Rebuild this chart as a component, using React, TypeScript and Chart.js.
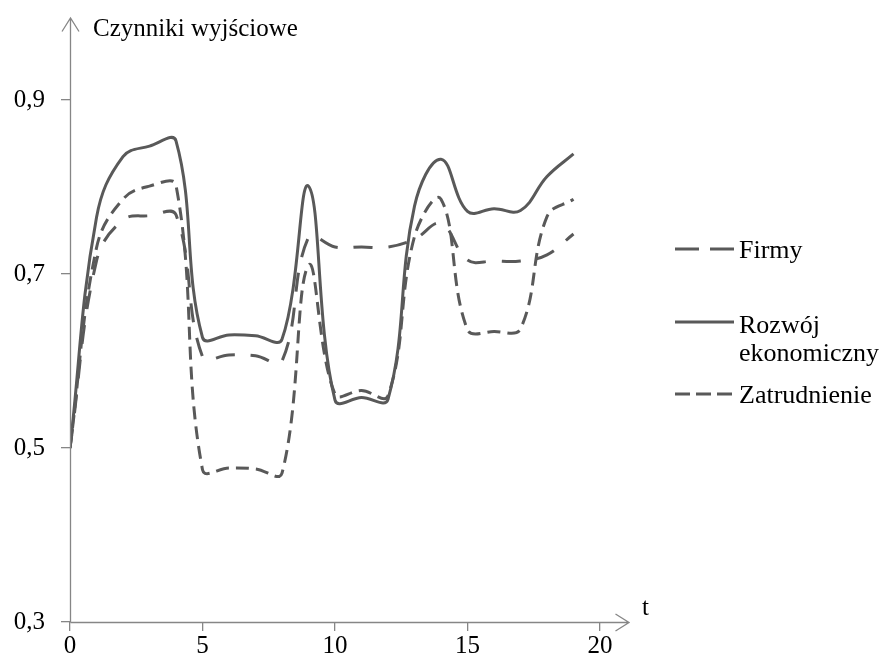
import { useEffect, useRef } from 'react';
import { Chart, registerables } from 'chart.js';

Chart.register(...registerables);

// ---- data ----
const T = [0, 1, 2, 3, 4, 5, 6, 7, 8, 9, 10, 11, 12, 13, 14, 15, 16, 17, 18, 19];
const FIRMY = [0.5, 0.715, 0.762, 0.767, 0.768, 0.605, 0.607, 0.606, 0.6, 0.742, 0.731, 0.731, 0.731, 0.74, 0.758, 0.716, 0.715, 0.715, 0.722, 0.746];
const ROZWOJ = [0.5, 0.765, 0.835, 0.847, 0.853, 0.627, 0.63, 0.629, 0.625, 0.801, 0.555, 0.558, 0.556, 0.778, 0.832, 0.772, 0.775, 0.773, 0.812, 0.838];
const ZATRUDNIENIE = [0.5, 0.73, 0.786, 0.801, 0.802, 0.475, 0.477, 0.476, 0.471, 0.71, 0.562, 0.566, 0.56, 0.743, 0.786, 0.636, 0.634, 0.637, 0.766, 0.786];

const SERIES_NAMES = ['Firmy', 'Rozwój ekonomiczny', 'Zatrudnienie'];
const LEGEND_LINES = [['Firmy'], ['Rozwój', 'ekonomiczny'], ['Zatrudnienie']];
const X_TICKS = [0, 5, 10, 15, 20];
const Y_TICKS = [0.3, 0.5, 0.7, 0.9];
const Y_TICK_LABELS = ['0,3', '0,5', '0,7', '0,9'];
const Y_TITLE = 'Czynniki wyjściowe';
const X_TITLE = 't';

const FONT = "'Liberation Serif', 'Times New Roman', serif";
const LINE_COLOR = '#595959';
const AXIS_COLOR = '#868686';

const decorPlugin = {
  id: 'decor',
  afterDraw(chart: any) {
    const { ctx, scales } = chart;
    const xs = scales.x;
    const ys = scales.y;
    const ax = Math.round(xs.getPixelForValue(0)) + 0.5;
    const ay = Math.round(ys.getPixelForValue(Y_TICKS[0])) + 0.5;
    const topY = 18;
    const rightX = 629;
    ctx.save();
    ctx.strokeStyle = AXIS_COLOR;
    ctx.lineWidth = 1.3;
    ctx.lineCap = 'butt';
    // y axis + arrow
    ctx.beginPath();
    ctx.moveTo(ax, ay);
    ctx.lineTo(ax, topY);
    ctx.moveTo(ax - 8.5, topY + 13.5);
    ctx.lineTo(ax, topY);
    ctx.lineTo(ax + 8.5, topY + 13.5);
    ctx.stroke();
    // x axis + arrow
    ctx.beginPath();
    ctx.moveTo(ax, ay);
    ctx.lineTo(rightX, ay);
    ctx.moveTo(rightX - 13.5, ay - 8.5);
    ctx.lineTo(rightX, ay);
    ctx.lineTo(rightX - 13.5, ay + 8.5);
    ctx.stroke();

    // titles
    ctx.fillStyle = '#000';
    ctx.font = `25px ${FONT}`;
    ctx.textAlign = 'left';
    ctx.textBaseline = 'alphabetic';
    ctx.fillText(Y_TITLE, 93, 36);
    ctx.fillText(X_TITLE, 642, 615);

    // legend
    const items = [
      { y: 249, textY: [258] },
      { y: 322, textY: [333, 361] },
      { y: 394, textY: [403] },
    ];
    const legendDash = [[24, 11], [], [15, 6]];
    items.forEach((it, i) => {
      const ds = chart.data.datasets[i];
      ctx.save();
      ctx.strokeStyle = ds.borderColor;
      ctx.lineWidth = ds.borderWidth;
      ctx.setLineDash(legendDash[i]);
      ctx.beginPath();
      ctx.moveTo(675, it.y);
      ctx.lineTo(734, it.y);
      ctx.stroke();
      ctx.restore();
      ctx.fillStyle = '#000';
      ctx.font = `26px ${FONT}`;
      LEGEND_LINES[i].forEach((line, j) => {
        ctx.fillText(line, 739, it.textY[j]);
      });
    });
    ctx.restore();
  },
};

export default function App() {
  const ref = useRef<HTMLCanvasElement | null>(null);

  useEffect(() => {
    if (!ref.current) return;
    const mk = (vals: number[]) => vals.map((v, i) => ({ x: T[i], y: v }));
    const chart = new Chart(ref.current, {
      type: 'line',
      data: {
        datasets: [
          {
            label: SERIES_NAMES[0],
            data: mk(FIRMY),
            borderColor: LINE_COLOR,
            borderWidth: 3,
            borderDash: [19, 16],
            pointRadius: 0,
            tension: 0.4,
            fill: false,
          },
          {
            label: SERIES_NAMES[1],
            data: mk(ROZWOJ),
            borderColor: LINE_COLOR,
            borderWidth: 3,
            pointRadius: 0,
            tension: 0.4,
            fill: false,
          },
          {
            label: SERIES_NAMES[2],
            data: mk(ZATRUDNIENIE),
            borderColor: LINE_COLOR,
            borderWidth: 3,
            borderDash: [13, 7],
            pointRadius: 0,
            tension: 0.4,
            fill: false,
          },
        ],
      },
      options: {
        responsive: false,
        animation: false,
        devicePixelRatio: 1,
        layout: { padding: { left: 0, right: 284, top: 100, bottom: 0 } },
        plugins: { legend: { display: false }, tooltip: { enabled: false } },
        scales: {
          x: {
            type: 'linear',
            min: 0,
            max: 20,
            afterBuildTicks: (s: any) => {
              s.ticks = X_TICKS.map((v) => ({ value: v }));
            },
            afterFit: (s: any) => {
              s.height = 41;
            },
            grid: { drawOnChartArea: false, drawTicks: true, tickLength: 9, color: AXIS_COLOR, lineWidth: 1.3 },
            border: { display: false },
            ticks: {
              color: '#000',
              font: { family: FONT, size: 25 },
              padding: 0,
              maxRotation: 0,
              autoSkip: false,
              callback: (v: any) => String(v),
            },
          },
          y: {
            type: 'linear',
            min: 0.3,
            max: 0.9,
            afterBuildTicks: (s: any) => {
              s.ticks = Y_TICKS.map((v) => ({ value: v }));
            },
            afterFit: (s: any) => {
              s.width = 70;
            },
            grid: { drawOnChartArea: false, drawTicks: true, tickLength: 9, color: AXIS_COLOR, lineWidth: 1.3 },
            border: { display: false },
            ticks: {
              color: '#000',
              font: { family: FONT, size: 25 },
              padding: 16,
              autoSkip: false,
              callback: (v: any) => {
                const idx = Y_TICKS.findIndex((t) => Math.abs(t - v) < 1e-6);
                return idx >= 0 ? Y_TICK_LABELS[idx] : '';
              },
            },
          },
        },
      },
      plugins: [decorPlugin],
    } as any);
    return () => chart.destroy();
  }, []);

  return (
    <div style={{ position: 'absolute', left: 0, top: 0, width: 884, height: 663, background: '#fff' }}>
      <canvas ref={ref} width={884} height={663} style={{ width: 884, height: 663, display: 'block' }} />
    </div>
  );
}
